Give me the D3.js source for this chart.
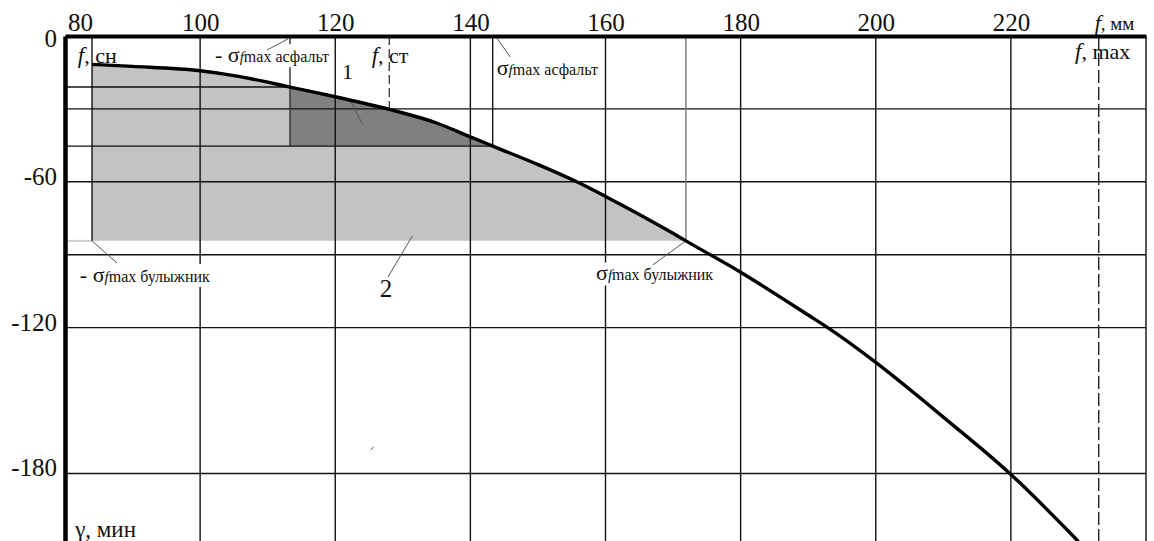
<!DOCTYPE html>
<html>
<head>
<meta charset="utf-8">
<script src="https://cdn.jsdelivr.net/npm/d3@7"></script>
<style>
  body { margin: 0; background: #fff; }
  svg { display: block; font-family: "Liberation Serif", "Times New Roman", serif; }
</style>
</head>
<body>
<div id="chart"></div>
<script>
// deflection f (mm) and angle gamma (min)
var curveF = [84, 90, 100, 105, 110, 113.3, 120, 128, 135, 140, 143.3, 150, 155.9, 160, 170, 171.9, 180, 190, 193, 200, 207, 210, 220, 230];
var curveG = [-11.7, -12.5, -14.3, -16.3, -19, -21, -25, -30.2, -35.8, -41.5, -45.3, -52.9, -60.2, -66, -81.2, -84.3, -97.2, -114.8, -120.2, -134.3, -149.9, -156.8, -180.4, -208];

// tick labels and grid
var xTicks = [80, 100, 120, 140, 160, 180, 200, 220];
var yTicks = [0, -60, -120, -180];
var xGrid = [100, 120, 140, 160, 180, 200, 220, 240];
var yGrid = [-30, -60, -90, -120, -180];

// characteristic points
var fSn = 84;
var fSt = 128;
var fMax = 233;
var fAsphStart = 113.3;
var gAsphStart = -21;
var fAsph = 143.3;
var gAsph = -45.3;
var fBul = 171.9;
var gBul = -84.3;

var width = 1154;
var height = 541;

var x = d3.scaleLinear().domain([80, 240]).range([65, 1146]);
var y = d3.scaleLinear().domain([0, -208]).range([36, 541.5]);

var data = curveF.map(function (f, i) {
  return { f: f, g: curveG[i] };
});

var svg = d3.select('#chart').append('svg')
  .attr('width', width)
  .attr('height', height);

// shaded zones
var zone2 = data.filter(function (d) { return d.f >= fSn && d.f <= fBul; });
var zone1 = data.filter(function (d) { return d.f >= fAsphStart && d.f <= fAsph; });

svg.append('path')
  .datum(zone2)
  .attr('fill', '#c3c3c3')
  .attr('d', d3.area()
    .curve(d3.curveMonotoneX)
    .x(function (d) { return x(d.f); })
    .y0(y(gBul))
    .y1(function (d) { return y(d.g); }));

svg.append('path')
  .datum(zone1)
  .attr('fill', '#808080')
  .attr('d', d3.area()
    .curve(d3.curveMonotoneX)
    .x(function (d) { return x(d.f); })
    .y0(y(gAsph))
    .y1(function (d) { return y(d.g); }));

svg.append('line')
  .attr('x1', x(80)).attr('x2', x(fSn))
  .attr('y1', y(gBul)).attr('y2', y(gBul))
  .attr('stroke', '#cfcfcf')
  .attr('stroke-width', 2);

// grid
svg.selectAll('.vgrid')
  .data(xGrid)
  .enter().append('line')
  .attr('x1', function (d) { return x(d); })
  .attr('x2', function (d) { return x(d); })
  .attr('y1', y(0))
  .attr('y2', y(-208))
  .attr('stroke', '#111')
  .attr('stroke-width', 1.4);

svg.selectAll('.hgrid')
  .data(yGrid)
  .enter().append('line')
  .attr('x1', x(80))
  .attr('x2', x(240))
  .attr('y1', function (d) { return y(d); })
  .attr('y2', function (d) { return y(d); })
  .attr('stroke', '#111')
  .attr('stroke-width', 1.4);

// reference lines [f1, g1, f2, g2, colour, dash]
var refLines = [
  [fSn, 0, fSn, gBul, '#111', null],
  [fAsphStart, 0, fAsphStart, gAsph, '#333', null],
  [fAsph, 0, fAsph, gAsph, '#111', null],
  [fBul, 0, fBul, gBul, '#777', null],
  [80, gAsphStart, fAsphStart, gAsphStart, '#111', null],
  [80, gAsph, fAsph, gAsph, '#111', null],
  [fSt, 0, fSt, -30, '#444', '9,4'],
  [fMax, 0, fMax, -208, '#222', '13,4']
];

svg.selectAll('.ref')
  .data(refLines)
  .enter().append('line')
  .attr('x1', function (d) { return x(d[0]); })
  .attr('y1', function (d) { return y(d[1]); })
  .attr('x2', function (d) { return x(d[2]); })
  .attr('y2', function (d) { return y(d[3]); })
  .attr('stroke', function (d) { return d[4]; })
  .attr('stroke-dasharray', function (d) { return d[5]; })
  .attr('stroke-width', 1.4);

// labels: f, g, parts [text, size, italic], white box
var labels = [
  { f: 81.9, g: -11.3, box: false, parts: [['f', 23, true], [', сн', 22, false]] },
  { f: 125.4, g: -11.3, box: false, parts: [['f', 23, true], [', ст', 22, false]] },
  { f: 229.5, g: -9.5, box: false, parts: [['f', 23, true], [', max', 22, false]] },
  { f: 232.4, g: 2.4, box: false, parts: [['f', 22, true], [', мм', 19, false]] },
  { f: 102.2, g: -10.8, box: true, parts: [['- σ', 22, false], ['f', 15, true], ['max асфальт', 16, false]] },
  { f: 143.9, g: -16, box: true, parts: [['σ', 22, false], ['f', 15, true], ['max асфальт', 16, false]] },
  { f: 82.2, g: -101.2, box: true, parts: [['- σ', 22, false], ['f', 15, true], ['max булыжник', 16, false]] },
  { f: 158.6, g: -100.6, box: true, parts: [['σ', 22, false], ['f', 15, true], ['max булыжник', 16, false]] },
  { f: 121.0, g: -17.5, box: false, parts: [['1', 22, false]] },
  { f: 126.6, g: -107.3, box: true, parts: [['2', 25, false]] },
  { f: 81.5, g: -206.2, box: false, parts: [['γ, мин', 23, false]] }
];

labels.forEach(function (l) {
  var g = svg.append('g');
  var t = g.append('text')
    .attr('x', x(l.f))
    .attr('y', y(l.g))
    .attr('fill', '#111');
  l.parts.forEach(function (p) {
    t.append('tspan')
      .style('font-size', p[1] + 'px')
      .style('font-style', p[2] ? 'italic' : 'normal')
      .text(p[0]);
  });
  if (l.box) {
    var b = t.node().getBBox();
    g.insert('rect', 'text')
      .attr('x', b.x - 2)
      .attr('y', b.y + 2)
      .attr('width', b.width + 4)
      .attr('height', b.height - 2)
      .attr('fill', '#fff');
  }
});

// leader lines
var leaders = [
  [109.9, -5.8, 113, -1.2],
  [143.9, -0.8, 145.9, -8.6],
  [122.2, -26.3, 124.1, -36.6],
  [127.8, -99.2, 131.4, -82.3],
  [fSn, gBul, 87.7, -93.4],
  [fBul, gBul, 167, -94.2],
  [125.2, -170.3, 125.7, -169.1]
];

svg.selectAll('.leader')
  .data(leaders)
  .enter().append('line')
  .attr('x1', function (d) { return x(d[0]); })
  .attr('y1', function (d) { return y(d[1]); })
  .attr('x2', function (d) { return x(d[2]); })
  .attr('y2', function (d) { return y(d[3]); })
  .attr('stroke', '#555')
  .attr('stroke-width', 1);

// the curve
svg.append('path')
  .datum(data)
  .attr('fill', 'none')
  .attr('stroke', '#000')
  .attr('stroke-width', 3.4)
  .attr('stroke-linejoin', 'round')
  .attr('d', d3.line()
    .curve(d3.curveMonotoneX)
    .x(function (d) { return x(d.f); })
    .y(function (d) { return y(d.g); }));

// top axis
var xAxis = svg.append('g')
  .attr('transform', 'translate(0,' + y(0) + ')')
  .call(d3.axisTop(x)
    .tickValues(xTicks)
    .tickSize(0)
    .tickSizeOuter(0)
    .tickPadding(5)
    .tickFormat(function (d) { return String(d); }));

xAxis.select('.domain').attr('stroke', '#000').attr('stroke-width', 4);
xAxis.selectAll('text')
  .style('font-size', '25px')
  .style('font-family', '"Liberation Serif", serif')
  .attr('fill', '#111')
  .attr('dx', function (d) { return d === 80 ? 15 : 0; });

// left axis
var yAxis = svg.append('g')
  .attr('transform', 'translate(' + x(80) + ',0)')
  .call(d3.axisLeft(y)
    .tickValues(yTicks)
    .tickSize(0)
    .tickSizeOuter(0)
    .tickPadding(8)
    .tickFormat(function (d) { return String(d); }));

yAxis.select('.domain').attr('stroke', '#000').attr('stroke-width', 4.5);
yAxis.selectAll('text')
  .style('font-size', '25px')
  .style('font-family', '"Liberation Serif", serif')
  .attr('fill', '#111')
  .attr('dy', function (d) { return d === 0 ? '0.4em' : '0.1em'; });
</script>
</body>
</html>
